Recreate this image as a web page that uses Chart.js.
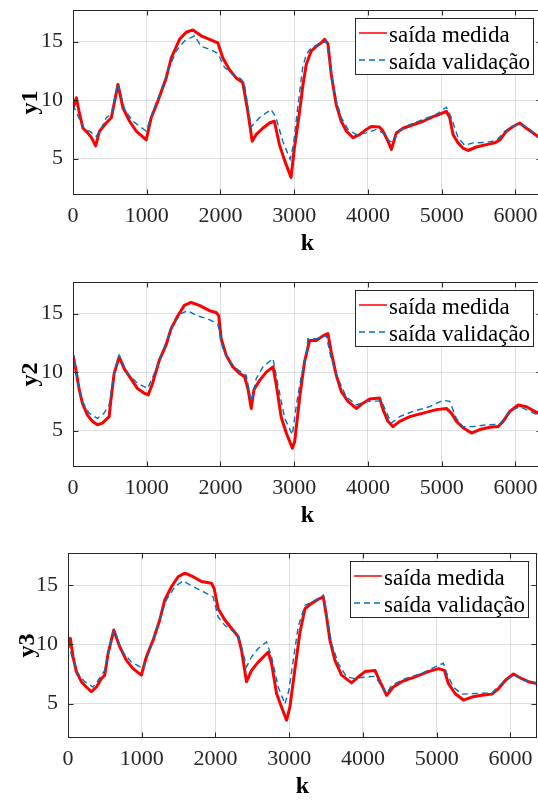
<!DOCTYPE html>
<html>
<head>
<meta charset="utf-8">
<script src="https://cdn.jsdelivr.net/npm/chart.js@4.4.1/dist/chart.umd.min.js"></script>
<style>
  html, body { margin: 0; padding: 0; background: #fff; width: 538px; height: 802px; overflow: hidden; }
  .box { position: absolute; left: 0; }
</style>
</head>
<body>
<div class="box" style="top:0px"><canvas id="c1" width="546" height="268"></canvas></div>
<div class="box" style="top:272px"><canvas id="c2" width="546" height="268"></canvas></div>
<div class="box" style="top:543px"><canvas id="c3" width="538" height="268"></canvas></div>
<script>
// tick labels
var xTicks = [0, 1000, 2000, 3000, 4000, 5000, 6000];
var yTicks = [5, 10, 15];
var legendLabels = ['saída medida', 'saída validação'];

// y1
var k1Med = [0,45,90,135,200,250,307,360,450,520,610,677,767,858,993,1060,1150,1264,1332,1445,1535,1625,1738,1851,1964,2032,2122,2212,2302,2370,2430,2483,2573,2664,2731,2799,2867,2957,3002,3070,3118,3163,3231,3299,3367,3412,3457,3502,3570,3638,3706,3796,3887,3977,4045,4158,4204,4271,4317,4385,4475,4611,4747,4882,4973,5063,5109,5154,5222,5290,5357,5470,5606,5719,5787,5878,5968,6059,6149,6240,6303,6360];
var y1Med = [9.2,10.2,8.8,7.6,7.2,6.8,6.1,7.35,8.05,8.5,11.35,9.35,8.2,7.35,6.6,8.5,9.9,11.9,13.6,15.2,15.8,16.0,15.5,15.2,14.9,13.6,12.6,11.9,11.5,9.05,6.5,7.05,7.6,8.05,8.2,6.2,4.9,3.4,5.9,8.9,11.3,13.05,14.2,14.6,14.9,15.2,14.8,12.2,9.6,8.2,7.35,6.8,7.05,7.5,7.75,7.7,7.35,6.5,5.8,7.2,7.6,7.9,8.2,8.6,8.8,9.05,8.5,7.05,6.35,5.9,5.7,6.0,6.2,6.35,6.6,7.35,7.75,8.05,7.6,7.2,6.9,6.8];
var k1Val = [0,90,158,226,316,384,451,519,610,700,813,993,1084,1174,1287,1400,1512,1648,1738,1851,1964,2054,2167,2280,2325,2415,2528,2686,2754,2844,2944,2990,3047,3115,3163,3231,3344,3434,3480,3548,3638,3729,3842,3977,4113,4204,4294,4339,4407,4566,4747,4928,5063,5131,5222,5312,5425,5606,5742,5855,5968,6059,6195,6303,6360];
var y1Val = [9.6,8.35,7.5,7.35,6.9,7.6,8.5,8.8,11.35,9.2,8.2,7.35,9.05,10.5,12.5,14.2,15.05,15.5,14.6,14.35,14.0,12.8,12.2,11.8,11.35,7.7,8.5,9.2,8.5,6.5,4.95,6.2,9.35,12.8,13.9,14.5,14.8,15.05,13.35,10.5,8.5,7.5,7.05,7.2,7.5,7.2,6.5,6.4,7.35,7.9,8.35,8.8,9.4,8.5,6.8,6.15,6.35,6.4,6.55,7.35,7.75,8.05,7.5,6.9,6.8];

// y2
var k2Med = [0,36,82,127,195,263,331,399,490,512,558,626,694,785,875,966,1020,1079,1170,1261,1329,1420,1510,1601,1714,1850,1941,1977,2009,2077,2168,2258,2327,2372,2417,2454,2531,2621,2712,2757,2825,2893,2975,3007,3075,3140,3208,3299,3389,3457,3502,3570,3638,3729,3842,3932,4023,4158,4204,4271,4339,4430,4566,4747,4928,5063,5131,5199,5290,5403,5516,5652,5765,5833,5923,6036,6149,6303,6360];
var y2Med = [11.45,10.3,8.6,7.35,6.35,5.8,5.5,5.65,6.2,7.5,9.9,11.3,10.3,9.45,8.6,8.2,8.05,9.05,11.0,12.3,13.7,14.8,15.7,15.95,15.7,15.25,15.1,14.8,12.85,11.45,10.45,9.9,9.6,8.6,6.9,8.5,9.3,10.0,10.45,8.9,6.1,4.8,3.5,4.1,7.9,10.9,12.7,12.7,13.1,13.3,11.7,9.75,8.35,7.5,6.9,7.35,7.7,7.8,6.8,5.8,5.35,5.8,6.2,6.5,6.8,6.9,6.5,5.8,5.25,4.8,5.1,5.3,5.35,5.8,6.65,7.2,7.05,6.5,6.4];
var k2Val = [0,59,127,218,331,422,490,558,626,739,875,1011,1125,1238,1351,1465,1556,1692,1828,1964,2032,2122,2236,2349,2417,2485,2576,2712,2780,2871,2975,3029,3098,3166,3186,3299,3434,3502,3593,3706,3842,3977,4181,4317,4430,4611,4837,5018,5109,5199,5290,5425,5606,5787,5923,6059,6303,6360];
var y2Val = [11.7,9.45,7.5,6.5,6.05,6.5,7.2,10.0,11.45,9.9,9.05,8.6,10.2,12.15,14.0,15.0,15.25,14.8,14.55,14.1,12.0,10.9,10.2,9.75,7.5,9.45,10.45,11.15,8.9,6.05,4.65,7.2,9.75,11.6,12.85,12.85,13.1,11.15,9.45,7.9,7.2,7.5,7.55,5.65,6.2,6.65,7.05,7.6,7.5,6.05,5.35,5.35,5.5,5.55,6.65,7.05,6.35,6.3];

// y3
var k3Med = [0,32,68,113,181,249,317,385,452,498,543,620,701,792,882,995,1063,1154,1244,1312,1403,1493,1584,1697,1810,1946,1982,2036,2127,2217,2308,2353,2421,2489,2579,2715,2760,2828,2896,2964,3009,3077,3145,3213,3303,3394,3462,3507,3552,3620,3710,3846,3937,4027,4163,4231,4321,4412,4525,4706,4887,5023,5104,5158,5249,5362,5475,5611,5747,5837,5928,6041,6154,6244,6360];
var y3Med = [9.9,10.5,8.95,7.7,6.85,6.4,6.0,6.4,7.1,7.4,9.2,11.2,9.8,8.65,7.95,7.4,8.95,10.35,12.05,13.75,14.85,15.7,16.0,15.7,15.3,15.15,14.7,13.0,12.05,11.35,10.65,9.5,6.85,7.8,8.5,9.35,8.4,5.85,4.7,3.6,4.7,7.9,11.0,13.0,13.45,13.8,14.0,12.3,10.35,8.65,7.4,6.75,7.25,7.7,7.8,6.85,5.7,6.4,6.85,7.25,7.7,7.95,7.8,6.7,5.85,5.3,5.55,5.7,5.8,6.25,6.95,7.5,7.1,6.85,6.7];
var k3Val = [0,68,136,226,339,407,498,566,624,724,860,1018,1109,1222,1335,1448,1561,1697,1833,1968,2036,2127,2217,2308,2353,2421,2489,2579,2692,2760,2851,2941,2995,3054,3122,3213,3326,3462,3507,3575,3665,3778,3891,4027,4163,4321,4389,4570,4796,4977,5090,5136,5226,5339,5520,5747,5882,6041,6199,6360];
var y3Val = [10.2,8.65,7.55,6.85,6.4,6.95,7.8,9.8,11.35,9.5,8.5,7.95,9.5,11.75,13.75,14.85,15.35,14.85,14.45,14.0,12.3,11.6,11.2,10.65,9.8,8.1,8.95,9.65,10.2,8.95,6.4,4.95,6.1,8.65,11.5,13.3,13.6,14.15,12.6,10.05,8.4,7.25,7.1,7.25,7.3,5.85,6.55,7.1,7.55,8.1,8.4,7.55,6.4,5.8,5.85,5.9,6.7,7.4,6.95,6.7];

var FONT = '"Liberation Serif", "Times New Roman", serif';
var AXC = '#262626';

function pts(ks, ys) {
  return ks.map(function (k, i) { return { x: k, y: ys[i] }; });
}

// no extra room for the end tick labels, the axes box is fixed
function noPad(s) {
  s.paddingTop = 0; s.paddingBottom = 0; s.paddingLeft = 0; s.paddingRight = 0;
}

// box, inward ticks and the legend, MATLAB style
var matlabBits = {
  id: 'matlabBits',
  afterDraw: function (chart) {
    var ctx = chart.ctx, a = chart.chartArea;
    var xs = chart.scales.x, ys = chart.scales.y;
    var L = Math.round(a.left) + 0.5, R = Math.round(a.right) - 0.5;
    var T = Math.round(a.top) + 0.5, B = Math.round(a.bottom) - 0.5;
    ctx.save();
    ctx.strokeStyle = AXC;
    ctx.lineWidth = 1;
    ctx.beginPath();
    xTicks.forEach(function (v) {
      var p = Math.round(xs.getPixelForValue(v)) + 0.5;
      ctx.moveTo(p, B); ctx.lineTo(p, B - 5);
      ctx.moveTo(p, T); ctx.lineTo(p, T + 5);
    });
    yTicks.forEach(function (v) {
      var p = Math.round(ys.getPixelForValue(v)) + 0.5;
      ctx.moveTo(L, p); ctx.lineTo(L + 5, p);
      ctx.moveTo(R, p); ctx.lineTo(R - 5, p);
    });
    ctx.stroke();
    ctx.strokeRect(L, T, R - L, B - T);

    // legend
    var w = 178, h = 56;
    var lx = Math.round(a.right - 8.7 - w) + 0.5, ly = Math.round(a.top + 8) + 0.5;
    ctx.fillStyle = '#fff';
    ctx.fillRect(lx, ly, w, h);
    ctx.strokeStyle = AXC;
    ctx.strokeRect(lx, ly, w, h);
    var ds = chart.data.datasets;
    var rows = [14.5, 41.5];
    ds.forEach(function (d, i) {
      ctx.beginPath();
      ctx.strokeStyle = d.borderColor;
      ctx.lineWidth = 1.5;
      ctx.setLineDash(d.borderDash || []);
      ctx.moveTo(lx + 3.5, ly + rows[i]);
      ctx.lineTo(lx + 31.5, ly + rows[i]);
      ctx.stroke();
      ctx.setLineDash([]);
      ctx.fillStyle = '#000';
      ctx.font = '23px ' + FONT;
      ctx.textBaseline = 'alphabetic';
      ctx.textAlign = 'left';
      ctx.fillText(d.label, lx + 33.5, ly + rows[i] + 9);
    });
    ctx.restore();
  }
};

function makeChart(id, yName, km, ym, kv, yv, yMin, yMax, yw, yTitlePad) {
  return new Chart(document.getElementById(id), {
    type: 'line',
    data: {
      datasets: [
        {
          label: legendLabels[0],
          data: pts(km, ym),
          borderColor: '#ff0000',
          borderWidth: 3,
          pointRadius: 0,
          tension: 0,
          borderJoinStyle: 'round',
          order: 2
        },
        {
          label: legendLabels[1],
          data: pts(kv, yv),
          borderColor: '#0072bd',
          borderWidth: 1.4,
          borderDash: [6, 4],
          pointRadius: 0,
          tension: 0,
          order: 1
        }
      ]
    },
    options: {
      responsive: false,
      animation: false,
      parsing: false,
      layout: { padding: { top: 10, right: (id === 'c3' ? 1 : 4), left: 0, bottom: 0 } },
      plugins: { legend: { display: false }, tooltip: { enabled: false } },
      scales: {
        x: {
          type: 'linear',
          min: 0,
          max: 6360,
          afterBuildTicks: function (s) { s.ticks = xTicks.map(function (v) { return { value: v }; }); },
          afterFit: function (s) { s.height = 73; noPad(s); },
          grid: { color: 'rgba(38,38,38,0.15)', drawTicks: false },
          border: { display: false },
          ticks: {
            padding: 8,
            maxRotation: 0,
            color: AXC,
            font: { family: FONT, size: 22 },
            callback: function (v) { return String(v); }
          },
          title: {
            display: true,
            text: 'k',
            color: '#000',
            font: { family: FONT, size: 24, weight: 'bold' },
            padding: { top: 0, bottom: 10 }
          }
        },
        y: {
          type: 'linear',
          min: yMin,
          max: yMax,
          afterBuildTicks: function (s) { s.ticks = yTicks.map(function (v) { return { value: v }; }); },
          afterFit: function (s) { s.width = yw; noPad(s); },
          grid: { color: 'rgba(38,38,38,0.15)', drawTicks: false },
          border: { display: false },
          ticks: {
            padding: 10,
            color: AXC,
            font: { family: FONT, size: 22 },
            callback: function (v) { return String(v); }
          },
          title: {
            display: true,
            text: yName,
            color: '#000',
            font: { family: FONT, size: 24, weight: 'bold' },
            padding: { top: yTitlePad, bottom: 0 }
          }
        }
      }
    },
    plugins: [matlabBits]
  });
}

makeChart('c1', 'y1', k1Med, y1Med, k1Val, y1Val, 1.9, 17.7, 73, 16);
makeChart('c2', 'y2', k2Med, y2Med, k2Val, y2Val, 1.9, 17.7, 73, 16);
makeChart('c3', 'y3', k3Med, y3Med, k3Val, y3Val, 2.1, 17.7, 68, 13);
</script>
</body>
</html>
